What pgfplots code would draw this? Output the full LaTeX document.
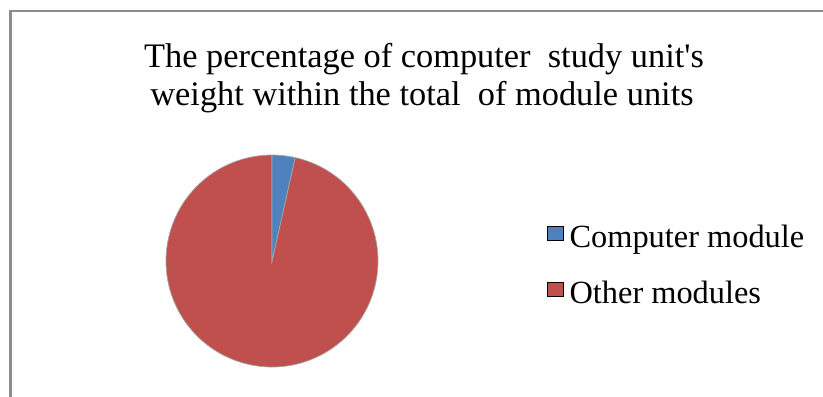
\documentclass[border=0pt]{standalone}
\usepackage{pgfplots}
\pgfplotsset{compat=1.18}
\usepackage{pgfplotstable}
\usepackage{fontspec}
\setmainfont{Liberation Serif}
\definecolor{cblue}{HTML}{4F81BD}
\definecolor{cred}{HTML}{C0504D}
\definecolor{frame}{HTML}{8C8C8C}
\pgfplotstableread{
part value
Computer 3.5
Other 96.5
}\piedata
\begin{document}
\begin{tikzpicture}[x=1bp,y=1bp]
\pgfplotstablegetelem{0}{value}\of\piedata \let\vA\pgfplotsretval
\pgfplotstablegetelem{1}{value}\of\piedata \let\vB\pgfplotsretval
\pgfmathsetmacro\aEnd{90-3.6*\vA}
\pgfmathsetmacro\bEnd{\aEnd-3.6*\vB}
\path[use as bounding box] (0,0) rectangle (823,396);
\draw[color=frame, line width=2.5bp] (10.5,-5) -- (10.5,385) -- (830,385);
\node[anchor=base, font=\fontsize{34.5}{38}\selectfont, inner sep=0pt] at (424,329) {The percentage of computer\ \ study unit\textquotesingle s};
\node[anchor=base, font=\fontsize{34.5}{38}\selectfont, inner sep=0pt] at (422,291) {weight within the total\ \ of module units};
\begin{axis}[at={(166bp,29bp)}, anchor=south west, scale only axis,
  width=212bp, height=212bp, hide axis,
  xmin=-1, xmax=1, ymin=-1, ymax=1, clip=false,
  legend style={at={(1.797,0.483)}, anchor=west, draw=none, fill=none,
    font=\fontsize{32.5}{38}\selectfont, row sep=28bp, column sep=4bp, inner sep=0pt,
    cells={anchor=west}},
  legend image code/.code={\fill[#1] (0bp,-4bp) rectangle (16bp,10bp);},
]
\addlegendimage{fill=cblue}
\addlegendentry{Computer module}
\addlegendimage{fill=cred}
\addlegendentry{Other modules}
\filldraw[fill=cred, draw=black!35, line width=0.7bp] (axis cs:0,0) -- (axis cs:{cos(\aEnd)},{sin(\aEnd)}) arc[start angle=\aEnd, end angle=\bEnd, radius=106bp] -- cycle;
\filldraw[fill=cblue, draw=black!35, line width=0.7bp] (axis cs:0,0) -- (axis cs:0,1) arc[start angle=90, end angle=\aEnd, radius=106bp] -- cycle;
\end{axis}
\end{tikzpicture}
\end{document}
